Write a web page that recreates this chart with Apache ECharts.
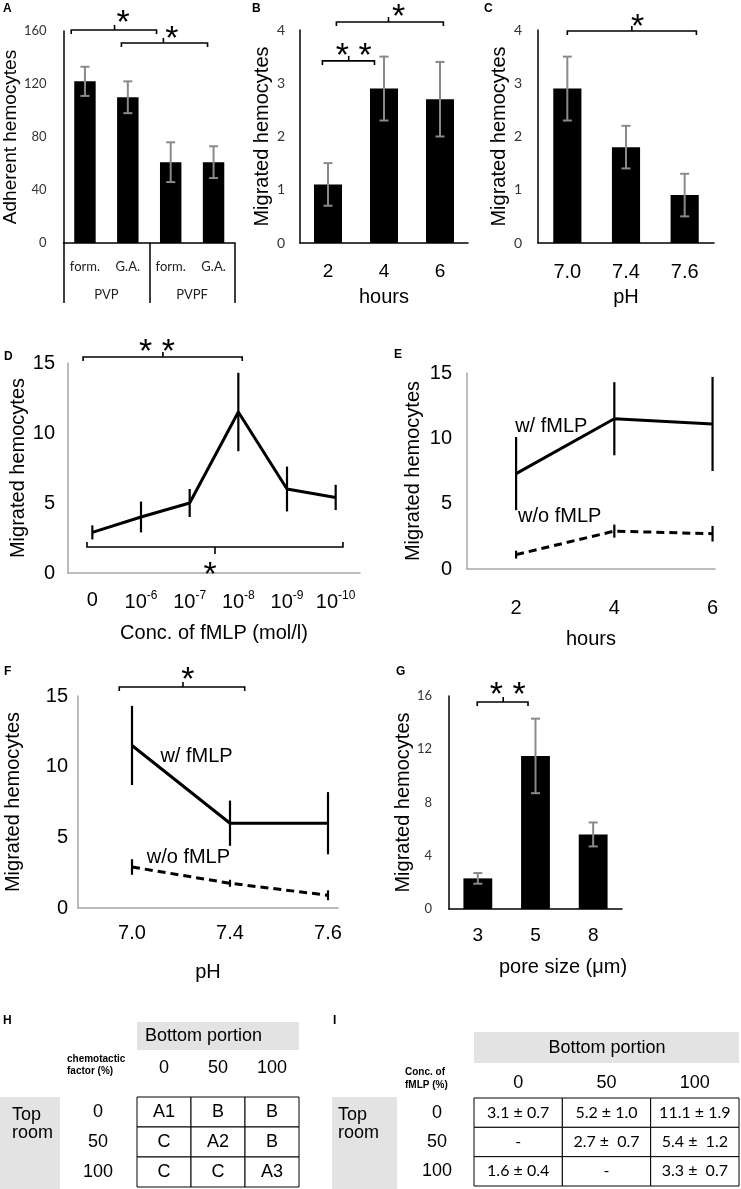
<!DOCTYPE html>
<html><head><meta charset="utf-8">
<script src="https://cdn.jsdelivr.net/npm/echarts@6/dist/echarts.min.js"></script>
<style>html,body{margin:0;padding:0;background:#fff}#c{width:741px;height:1189px}</style>
</head><body><div id="c"></div>
<script>
// ---------------- data ----------------
const aCats = ['form.', 'G.A.', 'form.', 'G.A.'];
const aGroups = ['PVP', 'PVPF'];
const aVals = [122, 110, 61, 61];
const aErr = [11, 12, 15, 12];

const bCats = ['2', '4', '6'];
const bVals = [1.1, 2.9, 2.7];
const bErr = [0.4, 0.6, 0.7];

const cCats = ['7.0', '7.4', '7.6'];
const cVals = [2.9, 1.8, 0.9];
const cErr = [0.6, 0.4, 0.4];

const dCats = ['0', '10^-6', '10^-7', '10^-8', '10^-9', '10^-10'];
const dVals = [2.9, 4.0, 5.0, 11.5, 6.0, 5.4];
const dErr = [0.5, 1.1, 1.0, 2.8, 1.6, 0.9];

const eHours = [2, 4, 6];
const eWith = [7.3, 11.5, 11.1];
const eWithErr = [2.8, 2.8, 3.6];
const eWithout = [1.1, 2.9, 2.7];
const eWithoutErr = [0.3, 0.5, 0.6];

const fCats = ['7.0', '7.4', '7.6'];
const fWith = [11.5, 6.0, 6.0];
const fWithErr = [2.8, 1.6, 2.2];
const fWithout = [2.9, 1.75, 0.9];
const fWithoutErr = [0.55, 0.25, 0.35];

const gCats = ['3', '5', '8'];
const gVals = [2.3, 11.5, 5.6];
const gErr = [0.4, 2.8, 0.9];

const hCols = ['0', '50', '100'];
const hRows = ['0', '50', '100'];
const hCells = [['A1', 'B', 'B'], ['C', 'A2', 'B'], ['C', 'C', 'A3']];

const iCols = ['0', '50', '100'];
const iRows = ['0', '50', '100'];
const iCells = [['3.1 ± 0.7', '5.2 ± 1.0', '11.1 ± 1.9'], ['-', '2.7 ±  0.7', '5.4 ±  1.2'], ['1.6 ± 0.4', '-', '3.3 ±  0.7']];

// ---------------- drawing ----------------
const SANS = '"Liberation Sans", Arial, Helvetica, sans-serif';
const CAL = 'Lato, "Open Sans", sans-serif';
const chart = echarts.init(document.getElementById('c'), null, {renderer: 'canvas', width: 741, height: 1189});

function errSeries(xi, yi, xs, vals, errs, st) {
  return {
    type: 'custom', xAxisIndex: xi, yAxisIndex: yi, z: 5, silent: true,
    encode: {x: 0, y: [1, 2]},
    data: vals.map((v, i) => [xs[i], v - errs[i], v + errs[i]]),
    renderItem(params, api) {
      const x = api.value(0);
      const lo = api.coord([x, api.value(1)]);
      const hi = api.coord([x, api.value(2)]);
      const style = {stroke: st.color, lineWidth: st.width};
      const ch = [{type: 'line', shape: {x1: lo[0], y1: lo[1], x2: hi[0], y2: hi[1]}, style}];
      if (st.cap) {
        ch.push({type: 'line', shape: {x1: lo[0] - st.cap, y1: lo[1], x2: lo[0] + st.cap, y2: lo[1]}, style});
        ch.push({type: 'line', shape: {x1: hi[0] - st.cap, y1: hi[1], x2: hi[0] + st.cap, y2: hi[1]}, style});
      }
      return {type: 'group', children: ch};
    }
  };
}

function tableSeries(xi, yi, cols, rows, cells, font) {
  const data = [];
  rows.forEach((r, ri) => cols.forEach((c, ci) => data.push([c, r, cells[ri][ci]])));
  return {
    type: 'custom', xAxisIndex: xi, yAxisIndex: yi, silent: true,
    data: data.map(d => [d[0], d[1]]),
    renderItem(params, api) {
      const p = api.coord([api.value(0), api.value(1)]);
      const s = api.size([1, 1]);
      return {type: 'group', children: [
        {type: 'rect', shape: {x: p[0] - s[0] / 2, y: p[1] - s[1] / 2, width: s[0], height: s[1]},
         style: {fill: '#fff', stroke: '#000', lineWidth: 1}},
        {type: 'text', style: {text: data[params.dataIndex][2], x: p[0], y: p[1], align: 'center', verticalAlign: 'middle',
          fontSize: font.size, fontFamily: font.family, fill: '#000'}}
      ]};
    }
  };
}

const blackLine = {show: true, onZero: false, lineStyle: {color: '#000', width: 1.5}};
const grayLine = {show: true, onZero: false, lineStyle: {color: '#a6a6a6', width: 1.5}};
const nameStyle = (fs) => ({fontSize: fs, color: '#000', fontFamily: SANS});

const BAR_ERR = {color: '#8a8a8a', width: 2, cap: 4.5};
const LINE_ERR = {color: '#000', width: 2.2, cap: 0};

const option = {
  animation: false,
  backgroundColor: '#fff',
  grid: [
    {left: 60, top: 31, width: 175, height: 212},
    {left: 300, top: 30, width: 168, height: 213},
    {left: 538, top: 30, width: 176, height: 213},
    {left: 68, top: 363, width: 292, height: 210},
    {left: 467, top: 373, width: 248, height: 196},
    {left: 78, top: 696, width: 260, height: 212},
    {left: 449, top: 696, width: 173, height: 213},
    {left: 137, top: 1097, width: 162, height: 90},
    {left: 474, top: 1098, width: 265, height: 88}
  ],
  xAxis: [
    // 0 A
    {type: 'category', gridIndex: 0, data: aCats, axisLine: blackLine, axisTick: {show: false},
     axisLabel: {fontSize: 13, color: '#222', fontFamily: CAL, margin: 17, interval: 0}},
    // 1 A groups
    {type: 'category', gridIndex: 0, position: 'bottom', data: aGroups, axisLine: {show: false},
     axisTick: {show: true, length: 60, lineStyle: {color: '#000', width: 1.5}},
     axisLabel: {fontSize: 13, color: '#222', fontFamily: CAL, margin: 45}},
    // 2 B
    {type: 'category', gridIndex: 1, data: bCats, axisLine: blackLine, axisTick: {show: false},
     axisLabel: {fontSize: 19, color: '#000', fontFamily: SANS, margin: 19},
     name: 'hours', nameLocation: 'middle', nameGap: 44, nameTextStyle: nameStyle(20)},
    // 3 C
    {type: 'category', gridIndex: 2, data: cCats, axisLine: blackLine, axisTick: {show: false},
     axisLabel: {fontSize: 20, color: '#000', fontFamily: SANS, margin: 19},
     name: 'pH', nameLocation: 'middle', nameGap: 44, nameTextStyle: nameStyle(20)},
    // 4 D
    {type: 'category', gridIndex: 3, data: dCats, axisLine: grayLine, axisTick: {show: false},
     axisLabel: {fontSize: 20, color: '#000', fontFamily: SANS, margin: 17, interval: 0,
       formatter: v => { const m = v.match(/^(\d+)\^(-?\d+)$/); return m ? m[1] + '{sup|' + m[2] + '}' : v; },
       rich: {sup: {fontSize: 12, fontFamily: SANS, color: '#000', padding: [0, 0, 12, 0]}}},
     name: 'Conc. of fMLP (mol/l)', nameLocation: 'middle', nameGap: 50, nameTextStyle: nameStyle(20)},
    // 5 E
    {type: 'value', gridIndex: 4, min: 1, max: 6.05, axisLine: grayLine, axisTick: {show: false}, splitLine: {show: false},
     axisLabel: {customValues: eHours, fontSize: 20, color: '#000', fontFamily: SANS, margin: 29},
     name: 'hours', nameLocation: 'middle', nameGap: 60, nameTextStyle: nameStyle(20)},
    // 6 F
    {type: 'value', gridIndex: 5, min: -0.551, max: 2.102, axisLine: grayLine, axisTick: {show: false}, splitLine: {show: false},
     axisLabel: {customValues: [0, 1, 2], formatter: v => fCats[Math.round(v)], fontSize: 20, color: '#000', fontFamily: SANS, margin: 15},
     name: 'pH', nameLocation: 'middle', nameGap: 54, nameTextStyle: nameStyle(20)},
    // 7 G
    {type: 'category', gridIndex: 6, data: gCats, axisLine: blackLine, axisTick: {show: false},
     axisLabel: {fontSize: 19, color: '#000', fontFamily: SANS, margin: 17},
     name: 'pore size (μm)', nameLocation: 'middle', nameGap: 48, nameTextStyle: Object.assign(nameStyle(20), {padding: [0, 0, 0, 55]})},
    // 8 H
    {type: 'category', gridIndex: 7, position: 'top', data: hCols, axisLine: {show: false}, axisTick: {show: false},
     axisLabel: {fontSize: 18, color: '#000', fontFamily: SANS, margin: 20}},
    // 9 I
    {type: 'category', gridIndex: 8, position: 'top', data: iCols, axisLine: {show: false}, axisTick: {show: false},
     axisLabel: {fontSize: 18, color: '#000', fontFamily: SANS, margin: 6}}
  ],
  yAxis: [
    // 0 A
    {type: 'value', gridIndex: 0, min: 0, max: 160, interval: 40, axisLine: blackLine, axisTick: {show: false}, splitLine: {show: false},
     axisLabel: {fontSize: 13, color: '#333', fontFamily: CAL, margin: 17},
     name: 'Adherent hemocytes', nameLocation: 'middle', nameRotate: 90, nameGap: 32, nameTextStyle: nameStyle(19)},
    // 1 B
    {type: 'value', gridIndex: 1, min: 0, max: 4, interval: 1, axisLine: blackLine, axisTick: {show: false}, splitLine: {show: false},
     axisLabel: {fontSize: 14, color: '#333', fontFamily: CAL, margin: 15},
     name: 'Migrated hemocytes', nameLocation: 'middle', nameRotate: 90, nameGap: 25, nameTextStyle: nameStyle(20)},
    // 2 C
    {type: 'value', gridIndex: 2, min: 0, max: 4, interval: 1, axisLine: blackLine, axisTick: {show: false}, splitLine: {show: false},
     axisLabel: {fontSize: 14, color: '#333', fontFamily: CAL, margin: 16},
     name: 'Migrated hemocytes', nameLocation: 'middle', nameRotate: 90, nameGap: 27, nameTextStyle: nameStyle(20)},
    // 3 D
    {type: 'value', gridIndex: 3, min: 0, max: 15, interval: 5, axisLine: grayLine, axisTick: {show: false}, splitLine: {show: false},
     axisLabel: {fontSize: 20, color: '#000', fontFamily: SANS, margin: 13},
     name: 'Migrated hemocytes', nameLocation: 'middle', nameRotate: 90, nameGap: 40, nameTextStyle: nameStyle(20)},
    // 4 E
    {type: 'value', gridIndex: 4, min: 0, max: 15, interval: 5, axisLine: grayLine, axisTick: {show: false}, splitLine: {show: false},
     axisLabel: {fontSize: 20, color: '#000', fontFamily: SANS, margin: 15},
     name: 'Migrated hemocytes', nameLocation: 'middle', nameRotate: 90, nameGap: 44, nameTextStyle: nameStyle(20)},
    // 5 F
    {type: 'value', gridIndex: 5, min: 0, max: 15, interval: 5, axisLine: grayLine, axisTick: {show: false}, splitLine: {show: false},
     axisLabel: {fontSize: 20, color: '#000', fontFamily: SANS, margin: 10},
     name: 'Migrated hemocytes', nameLocation: 'middle', nameRotate: 90, nameGap: 55, nameTextStyle: nameStyle(20)},
    // 6 G
    {type: 'value', gridIndex: 6, min: 0, max: 16, interval: 4, axisLine: blackLine, axisTick: {show: false}, splitLine: {show: false},
     axisLabel: {fontSize: 13, color: '#333', fontFamily: CAL, margin: 17},
     name: 'Migrated hemocytes', nameLocation: 'middle', nameRotate: 90, nameGap: 35, nameTextStyle: nameStyle(20)},
    // 7 H
    {type: 'category', gridIndex: 7, inverse: true, data: hRows, axisLine: {show: false}, axisTick: {show: false},
     axisLabel: {fontSize: 18, color: '#000', fontFamily: SANS, margin: 39, align: 'center'}},
    // 8 I
    {type: 'category', gridIndex: 8, inverse: true, data: iRows, axisLine: {show: false}, axisTick: {show: false},
     axisLabel: {fontSize: 18, color: '#000', fontFamily: SANS, margin: 37, align: 'center'}}
  ],
  series: [
    {type: 'bar', xAxisIndex: 0, yAxisIndex: 0, data: aVals, barWidth: '50%', itemStyle: {color: '#000'}, silent: true},
    errSeries(0, 0, aCats.map((c, i) => i), aVals, aErr, BAR_ERR),
    {type: 'bar', xAxisIndex: 2, yAxisIndex: 1, data: bVals, barWidth: '50%', itemStyle: {color: '#000'}, silent: true},
    errSeries(2, 1, bCats, bVals, bErr, BAR_ERR),
    {type: 'bar', xAxisIndex: 3, yAxisIndex: 2, data: cVals, barWidth: '48%', itemStyle: {color: '#000'}, silent: true},
    errSeries(3, 2, cCats, cVals, cErr, BAR_ERR),
    {type: 'line', xAxisIndex: 4, yAxisIndex: 3, data: dVals, symbol: 'none', lineStyle: {color: '#000', width: 3}, silent: true},
    errSeries(4, 3, dCats, dVals, dErr, LINE_ERR),
    {type: 'line', xAxisIndex: 5, yAxisIndex: 4, data: eHours.map((h, i) => [h, eWith[i]]), symbol: 'none', lineStyle: {color: '#000', width: 3}, silent: true},
    errSeries(5, 4, eHours, eWith, eWithErr, LINE_ERR),
    {type: 'line', xAxisIndex: 5, yAxisIndex: 4, data: eHours.map((h, i) => [h, eWithout[i]]), symbol: 'none', lineStyle: {color: '#000', width: 3, type: [8, 5]}, silent: true},
    errSeries(5, 4, eHours, eWithout, eWithoutErr, LINE_ERR),
    {type: 'line', xAxisIndex: 6, yAxisIndex: 5, data: fCats.map((c, i) => [i, fWith[i]]), symbol: 'none', lineStyle: {color: '#000', width: 3}, silent: true},
    errSeries(6, 5, fCats.map((c, i) => i), fWith, fWithErr, LINE_ERR),
    {type: 'line', xAxisIndex: 6, yAxisIndex: 5, data: fCats.map((c, i) => [i, fWithout[i]]), symbol: 'none', lineStyle: {color: '#000', width: 3, type: [8, 5]}, silent: true},
    errSeries(6, 5, fCats.map((c, i) => i), fWithout, fWithoutErr, LINE_ERR),
    {type: 'bar', xAxisIndex: 7, yAxisIndex: 6, data: gVals, barWidth: '50%', itemStyle: {color: '#000'}, silent: true},
    errSeries(7, 6, gCats, gVals, gErr, BAR_ERR),
    tableSeries(8, 7, hCols, hRows, hCells, {size: 18, family: SANS}),
    tableSeries(9, 8, iCols, iRows, iCells, {size: 16, family: CAL})
  ]
};
chart.setOption(option);

// ---------------- annotations (brackets, labels) ----------------
function P(xi, yi, xv, yv, cat) {
  const f = {xAxisIndex: xi, yAxisIndex: yi};
  if (cat) {
    const p0 = chart.convertToPixel(f, [0, yv]);
    const p1 = chart.convertToPixel(f, [1, yv]);
    return [p0[0] + (p1[0] - p0[0]) * xv, p0[1]];
  }
  return chart.convertToPixel(f, [xv, yv]);
}
const G = [];
function txt(text, x, y, o) {
  G.push({type: 'text', x, y, z: 20, style: Object.assign({text, fill: '#000', fontFamily: SANS, fontSize: 18, align: 'left', verticalAlign: 'middle'}, o || {})});
}
function bracket(xi, yi, cat, x1, x2, xt, yv, sx, label, dy, up) {
  const a = P(xi, yi, x1, yv, cat), b = P(xi, yi, x2, yv, cat), t = P(xi, yi, xt, yv, cat), s = P(xi, yi, sx, yv, cat);
  const y = a[1];
  const h = up ? 4 : -5;
  const ls = {stroke: '#000', lineWidth: 1.6, fill: 'none'};
  G.push({type: 'polyline', z: 20, shape: {points: [[a[0], y + h], [a[0], y], [b[0], y], [b[0], y + h]]}, style: ls});
  G.push({type: 'line', z: 20, shape: {x1: t[0], y1: y, x2: t[0], y2: y - (up ? 5 : -7)}, style: ls});
  txt(label, s[0], y + (up ? -dy : dy) + 9, {fontSize: 34, align: 'center'});
}
// panel letters
[['A', 3, 9], ['B', 252, 9], ['C', 484, 9], ['D', 4, 357], ['E', 394, 355], ['F', 4, 672], ['G', 396, 672], ['H', 3, 1021], ['I', 333, 1021]]
  .forEach(l => txt(l[0], l[1], l[2], {fontSize: 12, fontWeight: 'bold'}));

bracket(0, 0, true, -0.32, 1.67, 0.69, 160.8, 0.89, '*', 15, true);
bracket(0, 0, true, 0.85, 2.86, 1.83, 151, 2.03, '*', 12, true);
bracket(2, 1, true, -0.1, 0.83, 0.37, 3.42, 0.46, '* *', 13, true);
bracket(2, 1, true, 0.15, 2.06, 1.08, 4.15, 1.26, '*', 13, true);
bracket(3, 2, true, 0.0, 2.2, 1.1, 3.98, 1.2, '*', 12, true);
bracket(4, 3, true, -0.19, 3.08, 1.45, 15.43, 1.33, '* *', 13, true);
bracket(4, 3, true, -0.11, 5.15, 2.52, 1.86, 2.42, '*', 20, false);
bracket(6, 5, false, -0.13, 1.15, 0.52, 15.64, 0.57, '*', 15, true);
bracket(7, 6, true, -0.01, 0.87, 0.44, 15.55, 0.52, '* *', 15, true);

// series labels
let p = P(5, 4, 1.98, 10.9, false); txt('w/ fMLP', p[0], p[1], {fontSize: 20});
p = P(5, 4, 2.04, 4.0, false); txt('w/o fMLP', p[0], p[1], {fontSize: 20});
p = P(6, 5, 0.29, 10.7, false); txt('w/ fMLP', p[0], p[1], {fontSize: 20});
p = P(6, 5, 0.15, 3.6, false); txt('w/o fMLP', p[0], p[1], {fontSize: 20});

// tables decorations
const GRAY = '#e3e3e3';
G.push({type: 'rect', z: 1, shape: {x: 137, y: 1022, width: 162, height: 28}, style: {fill: GRAY}});
txt('Bottom portion', 145, 1036);
G.push({type: 'rect', z: 1, shape: {x: 0, y: 1097, width: 60, height: 92}, style: {fill: GRAY}});
txt('Top', 12, 1115); txt('room', 12, 1133);
txt('chemotactic', 67, 1059, {fontSize: 10, fontWeight: 'bold'});
txt('factor (%)', 67, 1071, {fontSize: 10, fontWeight: 'bold'});

G.push({type: 'rect', z: 1, shape: {x: 474, y: 1032, width: 265, height: 31}, style: {fill: GRAY}});
txt('Bottom portion', 607, 1048, {align: 'center'});
G.push({type: 'rect', z: 1, shape: {x: 332, y: 1097, width: 65, height: 92}, style: {fill: GRAY}});
txt('Top', 338, 1115); txt('room', 338, 1133);
txt('Conc. of', 405, 1072, {fontSize: 10, fontWeight: 'bold'});
txt('fMLP (%)', 405, 1085, {fontSize: 10, fontWeight: 'bold'});

chart.setOption({graphic: G});
</script></body></html>
